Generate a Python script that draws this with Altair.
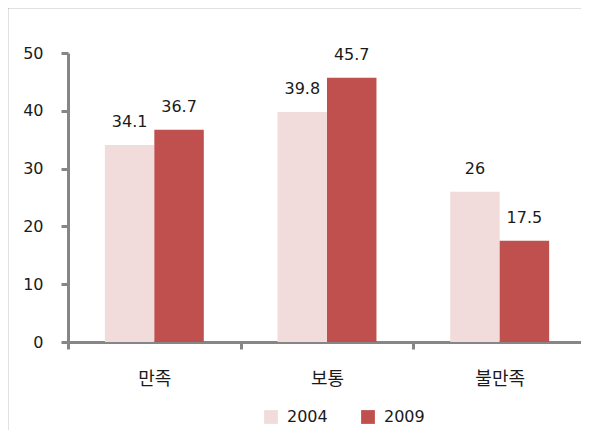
import pandas as pd
import altair as alt

categories = ['만족', '보통', '불만족']
years = ['2004', '2009']
values_2004 = [34.1, 39.8, 26]
values_2009 = [36.7, 45.7, 17.5]

rows = []
for i, cat in enumerate(categories):
    rows.append({'category': cat, 'year': years[0], 'value': values_2004[i]})
    rows.append({'category': cat, 'year': years[1], 'value': values_2009[i]})
df = pd.DataFrame(rows)

# the plot runs past the right edge of the window, as in the original
width = 513
height = 289
num_font = 'DejaVu Sans'
kr_font = 'Noto Sans CJK KR'
gray = '#868686'
ink = '#1a1a1a'

base = alt.Chart(df).encode(
    x=alt.X('category:N',
            sort=categories,
            title=None,
            scale=alt.Scale(paddingInner=0, paddingOuter=0, range=[0, 518]),
            axis=alt.Axis(labelAngle=0, labelFontSize=18, labelColor=ink,
                          labelPadding=21, domainColor=gray, domainWidth=3,
                          tickColor=gray, tickWidth=3, tickSize=7,
                          tickBand='extent', labelFont=kr_font)),
    xOffset=alt.XOffset('year:N', sort=years,
                        scale=alt.Scale(paddingInner=0, paddingOuter=0.745)),
    y=alt.Y('value:Q',
            title=None,
            scale=alt.Scale(domain=[0, 50], nice=False),
            axis=alt.Axis(values=[0, 10, 20, 30, 40, 50], grid=False,
                          labelFontSize=16, labelColor=ink, labelPadding=18,
                          domainColor=gray, domainWidth=3, tickColor=gray,
                          tickWidth=3, tickSize=7, labelFont=num_font))
)

bars = base.mark_bar().encode(
    color=alt.Color('year:N',
                    sort=years,
                    scale=alt.Scale(domain=years, range=['#F2DCDB', '#C0504D']),
                    legend=alt.Legend(orient='none', legendX=195, legendY=356,
                                      direction='horizontal', title=None,
                                      symbolType='square', symbolSize=190,
                                      symbolStrokeWidth=0, labelFontSize=16,
                                      labelColor=ink, labelFont=num_font,
                                      columnPadding=32, labelOffset=8))
)

labels = base.mark_text(baseline='bottom', dy=-15, fontSize=16, color=ink,
                        font=num_font).encode(
    text=alt.Text('value:Q')
)

frame = alt.Chart(pd.DataFrame({'a': [0]})).mark_rect(
    fill=None, stroke=gray, strokeWidth=2.5
).encode(
    x=alt.value(-61), x2=alt.value(640),
    y=alt.value(-46), y2=alt.value(500)
)

chart = (frame + bars + labels).properties(
    width=width,
    height=height,
    autosize=alt.AutoSizeParams(type='none'),
    padding={'left': 60, 'top': 45, 'right': 0, 'bottom': 88}
).configure_view(stroke=None)

chart.save("out.html", embed_options={"renderer": "svg", "actions": False})
